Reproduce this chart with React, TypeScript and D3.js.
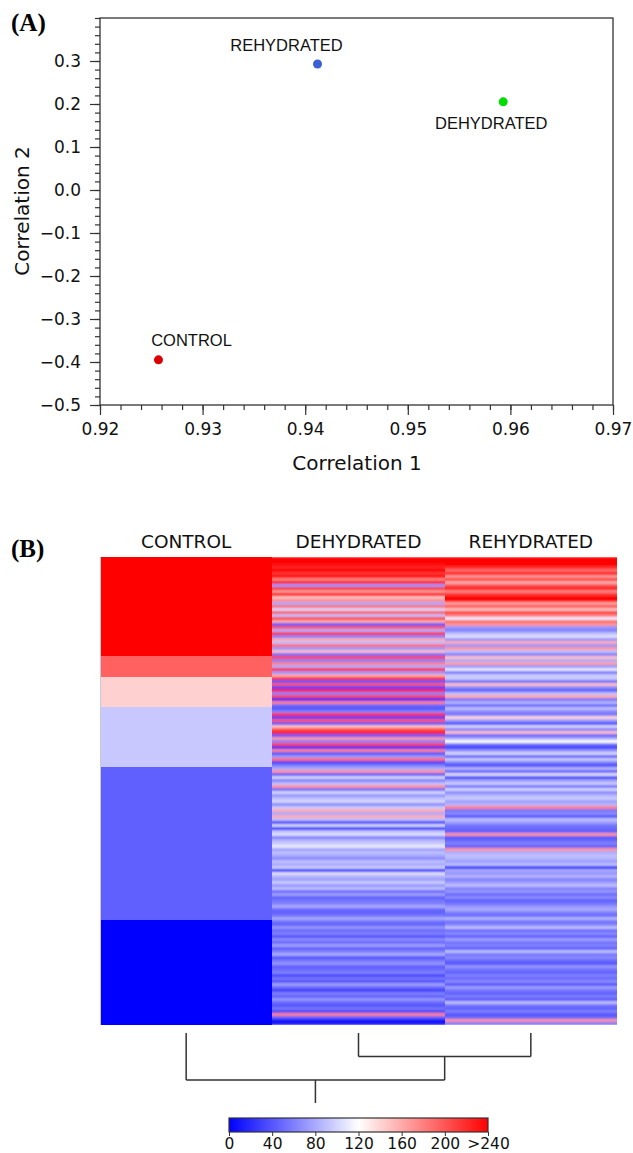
import React, { useEffect, useRef } from 'react';
import * as d3 from 'd3';

// ---- panel A: correlation plot ----
const groups = ['CONTROL', 'DEHYDRATED', 'REHYDRATED'];
const corr1 = [0.9257, 0.9593, 0.9412];
const corr2 = [-0.395, 0.205, 0.293];
const pointColors = ['#dd0000', '#00dd00', '#3b5fd4'];
const xTicks = [0.92, 0.93, 0.94, 0.95, 0.96, 0.97];
const yTicks = [-0.5, -0.4, -0.3, -0.2, -0.1, 0.0, 0.1, 0.2, 0.3];

// ---- panel B: heatmap (values on the 0..240 colour scale) ----
const controlLevels = [240, 195, 142, 94, 45, 0];
const controlLevelRows = [33, 7, 10, 20, 51, 35];
const dehydrated = [
  240, 240, 235, 225, 240, 215,
  240, 180, 235, 70, 215, 170, 240, 150,
  175, 80, 190, 100, 200, 90, 210, 160,
  40, 200, 80, 220, 60, 160, 90, 190, 70, 150,
  50,
  210, 60, 180, 80, 230, 70, 160,
  220, 40, 200, 30, 230, 60, 210, 20, 180, 50,
  40, 60, 220, 30, 200, 40, 150, 200, 230, 40, 170, 60, 210,
  20, 180, 40, 70, 190, 30, 60,
  80, 170, 40, 100, 60, 90, 170, 50, 100, 70,
  90, 100, 65, 95, 160, 80, 160, 90, 30, 100,
  20, 90, 105, 60, 85, 95, 110, 75, 90, 80,
  65, 90, 80, 95, 15, 105, 85, 75, 95, 70,
  90, 50, 75, 45, 55, 60, 80, 50, 45, 55,
  80, 55, 45, 70, 50, 60, 40, 65, 50, 75,
  45, 60, 80, 40, 55, 70, 45, 50, 60, 35,
  55, 40, 75, 50, 30, 60, 45, 70, 50, 40,
  55, 35, 180, 45, 10, 10,
];
const rehydrated = [
  240, 240, 240,
  220, 190, 230, 170, 210, 160, 200, 230, 180, 215,
  240, 235,
  165, 200, 150, 210, 180, 110, 190, 170,
  70, 60, 90,
  105, 70, 160, 70, 170, 90, 60, 150, 80, 165, 70, 110, 55, 95,
  95, 50, 150, 65, 45, 90, 160, 55, 85, 50,
  90, 65, 55, 140, 75, 35, 100, 60, 150, 45, 80, 120, 55,
  30, 70, 100, 45, 95, 60, 35,
  85, 45, 105, 30, 75, 95, 55, 100, 65, 85,
  95, 75, 85, 180, 55, 65, 40, 90, 75, 55,
  50, 45, 170, 40, 50, 60, 45, 170, 80, 90,
  85, 75, 90, 20, 80, 70, 85, 60, 75, 90,
  60, 70, 50, 65, 45, 55, 70, 80, 60, 50,
  85, 55, 60, 90, 50, 65, 45, 75, 55, 60,
  45, 90, 55, 65, 50, 40, 70, 55, 45, 60,
  50, 65, 40, 75, 55, 45, 60, 40, 90, 55,
  45, 60, 40, 50, 170, 55,
];
const colorbarTicks = [0, 40, 80, 120, 160, 200, 240];
// dendrogram: dehydrated + rehydrated join first, then control
const tree = { height: 2, children: [{ name: 'CONTROL', height: 0 }, { height: 1, children: [{ name: 'DEHYDRATED', height: 0 }, { name: 'REHYDRATED', height: 0 }] }] };

const W = 633;
const H = 1153;

export default function App() {
  const ref = useRef<SVGSVGElement | null>(null);

  useEffect(() => {
    const svg = d3.select(ref.current);
    svg.selectAll('*').remove();
    const tickFont = '"DejaVu Sans", Verdana, sans-serif';
    const serif = '"Liberation Serif", "Times New Roman", serif';
    const defs = svg.append('defs');

    // ===== (A) =====
    svg.append('text').attr('x', 11).attr('y', 31)
      .attr('font-family', serif).attr('font-weight', 'bold').attr('font-size', 25).text('(A)');

    const x = d3.scaleLinear().domain([0.92, 0.97]).range([100, 613]);
    const y = d3.scaleLinear().domain([-0.5, 0.4]).range([405, 18]);

    const gA = svg.append('g');
    // minor ticks
    gA.append('g').attr('transform', 'translate(100,0)')
      .call(d3.axisLeft(y).ticks(45).tickSize(5).tickFormat(() => ''));
    gA.append('g').attr('transform', 'translate(0,405)')
      .call(d3.axisBottom(x).ticks(25).tickSize(5).tickFormat(() => ''));
    // major ticks
    gA.append('g').attr('transform', 'translate(100,0)')
      .call(d3.axisLeft(y).tickValues(yTicks).tickSize(10).tickPadding(9).tickFormat(d3.format('.1f')));
    gA.append('g').attr('transform', 'translate(0,405)')
      .call(d3.axisBottom(x).tickValues(xTicks).tickSize(10).tickPadding(8).tickFormat(d3.format('.2f')));
    gA.selectAll('.domain').remove();
    gA.selectAll('.tick line').attr('stroke', '#333').attr('stroke-width', 1.2);
    gA.selectAll('.tick text').attr('font-family', tickFont).attr('font-size', 17).attr('fill', '#111');

    gA.append('rect').attr('x', 100).attr('y', 18).attr('width', 513).attr('height', 387)
      .attr('fill', 'none').attr('stroke', '#333').attr('stroke-width', 1.3);

    gA.append('text').attr('x', 357).attr('y', 470).attr('text-anchor', 'middle')
      .attr('font-family', tickFont).attr('font-size', 20).attr('fill', '#111').text('Correlation 1');
    gA.append('text').attr('transform', 'translate(29,211) rotate(-90)').attr('text-anchor', 'middle')
      .attr('font-family', tickFont).attr('font-size', 20).attr('fill', '#111').text('Correlation 2');

    const labelOffsets = [[33, -14], [-12, 27], [-31, -13]];
    groups.forEach((g, i) => {
      const cx = x(corr1[i]);
      const cy = y(corr2[i]);
      gA.append('circle').attr('cx', cx).attr('cy', cy).attr('r', 4.5).attr('fill', pointColors[i]);
      gA.append('text').attr('x', cx + labelOffsets[i][0]).attr('y', cy + labelOffsets[i][1])
        .attr('text-anchor', 'middle').attr('font-family', '"Liberation Sans", Arial, sans-serif')
        .attr('font-size', 16.5).attr('fill', '#111').text(g);
    });

    // ===== (B) =====
    svg.append('text').attr('x', 11).attr('y', 557)
      .attr('font-family', serif).attr('font-weight', 'bold').attr('font-size', 25).text('(B)');

    const color = d3.scaleLinear<string>().domain([0, 120, 240])
      .range(['#0000ff', '#ffffff', '#ff0000']).clamp(true);

    const control: number[] = [];
    controlLevels.forEach((v, i) => { for (let k = 0; k < controlLevelRows[i]; k++) control.push(v); });
    const columns = [control, dehydrated, rehydrated];

    const xc = d3.scaleBand<string>().domain(groups).range([100, 617]);
    const yr = d3.scaleBand<number>().domain(d3.range(dehydrated.length)).range([557, 1025]);

    // slight vertical blur on the gene stripes (the source image was resampled)
    const filt = defs.append('filter').attr('id', 'rowblur')
      .attr('filterUnits', 'userSpaceOnUse')
      .attr('x', xc('DEHYDRATED') as number).attr('y', 557)
      .attr('width', 617 - (xc('DEHYDRATED') as number)).attr('height', 468);
    filt.append('feGaussianBlur').attr('stdDeviation', '0 1').attr('edgeMode', 'duplicate');

    const gB = svg.append('g');
    const gStripes = gB.append('g').attr('filter', 'url(#rowblur)');
    columns.forEach((vals, ci) => {
      const target = ci === 0 ? gB : gStripes;
      target.append('g').selectAll('rect').data(vals).enter().append('rect')
        .attr('x', xc(groups[ci]) as number)
        .attr('width', xc.bandwidth())
        .attr('y', (_, i) => yr(i) as number)
        .attr('height', yr.bandwidth() + 0.3)
        .attr('fill', d => color(d))
        .attr('shape-rendering', 'crispEdges');
    });
    gB.append('line').attr('x1', 100.5).attr('x2', 100.5).attr('y1', 557).attr('y2', 1025)
      .attr('stroke', '#c8c8d8');

    groups.forEach(g => {
      gB.append('text').attr('x', (xc(g) as number) + xc.bandwidth() / 2).attr('y', 548)
        .attr('text-anchor', 'middle').attr('font-family', tickFont).attr('font-size', 18.5)
        .attr('fill', '#111').text(g);
    });

    // dendrogram
    const hy = d3.scaleLinear().domain([0, 2]).range([1033, 1080]);
    const root = d3.hierarchy<any>(tree);
    root.eachAfter((n: any) => {
      n.px = n.children ? d3.mean(n.children, (c: any) => c.px) : (xc(n.data.name) as number) + xc.bandwidth() / 2;
    });
    const line = d3.path();
    root.each((n: any) => {
      if (!n.children) return;
      const yy = hy(n.data.height);
      n.children.forEach((c: any) => {
        line.moveTo(c.px, hy(c.data.height));
        line.lineTo(c.px, yy);
      });
      line.moveTo(n.children[0].px, yy);
      line.lineTo(n.children[n.children.length - 1].px, yy);
    });
    const r: any = root;
    line.moveTo(r.px, hy(r.data.height));
    line.lineTo(r.px, hy(r.data.height + 0.98));
    gB.append('path').attr('d', line.toString()).attr('fill', 'none')
      .attr('stroke', '#333').attr('stroke-width', 1.5);

    // colour bar
    const cb = d3.scaleLinear().domain([0, 240]).range([229, 488]);
    const grad = defs.append('linearGradient').attr('id', 'cbgrad');
    colorbarTicks.forEach(v => {
      grad.append('stop').attr('offset', `${(v / 240) * 100}%`).attr('stop-color', color(v));
    });
    gB.append('rect').attr('x', 229).attr('y', 1118).attr('width', 259).attr('height', 14)
      .attr('fill', 'url(#cbgrad)').attr('stroke', '#333').attr('stroke-width', 1.2);
    const cbAxis = gB.append('g').attr('transform', 'translate(0,1132)')
      .call(d3.axisBottom(cb).tickValues(colorbarTicks).tickSize(4).tickPadding(2)
        .tickFormat(d => (+d >= 240 ? '>240' : String(d))));
    cbAxis.select('.domain').remove();
    cbAxis.selectAll('.tick line').attr('stroke', '#333');
    cbAxis.selectAll('.tick text').attr('font-family', tickFont).attr('font-size', 15.5).attr('fill', '#111');
  }, []);

  return (
    <div style={{ position: 'absolute', left: 0, top: 0, width: W, height: H, background: '#fff' }}>
      <svg ref={ref} width={W} height={H} />
    </div>
  );
}
